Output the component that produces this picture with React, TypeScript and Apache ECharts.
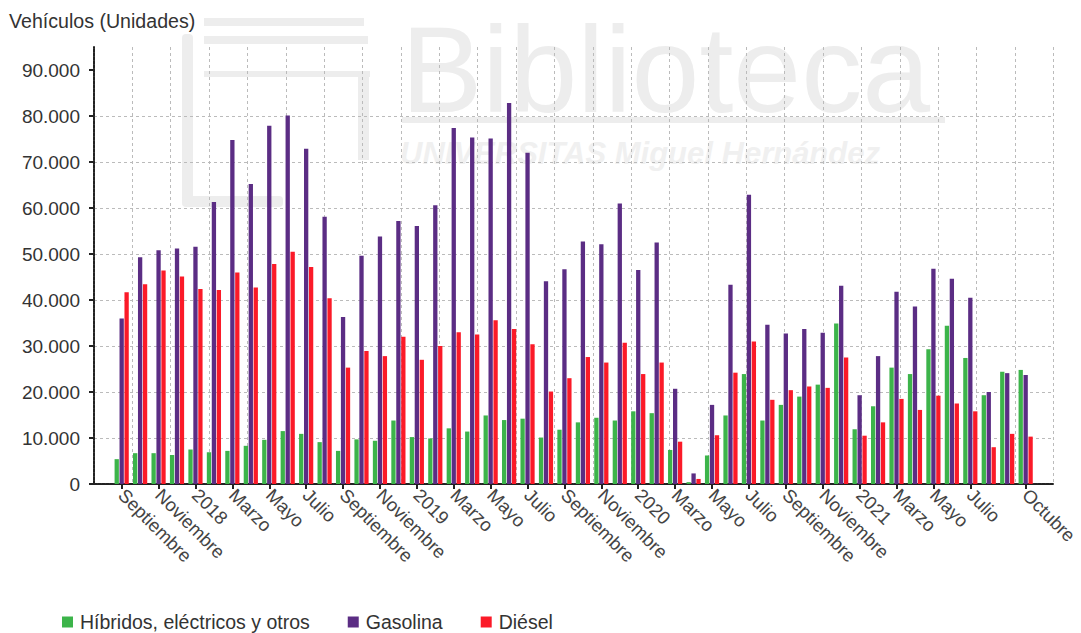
import React, { useEffect, useRef } from "react";
import * as echarts from "echarts";

const months: string[] = [
  "Septiembre", "Octubre", "Noviembre", "Diciembre",
  "2018", "Febrero", "Marzo", "Abril", "Mayo", "Junio", "Julio", "Agosto", "Septiembre", "Octubre", "Noviembre", "Diciembre",
  "2019", "Febrero", "Marzo", "Abril", "Mayo", "Junio", "Julio", "Agosto", "Septiembre", "Octubre", "Noviembre", "Diciembre",
  "2020", "Febrero", "Marzo", "Abril", "Mayo", "Junio", "Julio", "Agosto", "Septiembre", "Octubre", "Noviembre", "Diciembre",
  "2021", "Febrero", "Marzo", "Abril", "Mayo", "Junio", "Julio", "Agosto", "Septiembre", "Octubre",
];

const hibridos: number[] = [
  5400, 6700, 6700, 6300, 7500, 6900, 7200, 8300, 9600, 11500,
  10900, 9100, 7200, 9700, 9400, 13800, 10200, 9900, 12100, 11400,
  14900, 13900, 14200, 10100, 11800, 13400, 14400, 13800, 15800, 15400,
  7400, 400, 6200, 14900, 23900, 13800, 17200, 19000, 21600, 34900,
  11900, 16900, 25300, 23900, 29300, 34400, 27400, 19300, 24400, 24800,
];

const gasolina: number[] = [
  36000, 49300, 50800, 51200, 51600, 61300, 74800, 65200, 77900, 80100,
  72900, 58100, 36300, 49600, 53800, 57200, 56100, 60600, 77400, 75300,
  75100, 82800, 72000, 44100, 46700, 52700, 52100, 61000, 46500, 52500,
  20700, 2300, 17200, 43300, 62900, 34600, 32700, 33700, 32900, 43100,
  19300, 27800, 41800, 38600, 46800, 44600, 40500, 20000, 24100, 23700,
];

const diesel: number[] = [
  41700, 43400, 46400, 45100, 42400, 42200, 46000, 42700, 47800, 50500,
  47200, 40400, 25300, 28900, 27800, 32000, 27000, 30000, 33000, 32500,
  35600, 33700, 30400, 20100, 23000, 27600, 26400, 30700, 23900, 26400,
  9200, 1100, 10600, 24200, 31000, 18300, 20400, 21200, 20900, 27500,
  10500, 13400, 18500, 16100, 19200, 17500, 15800, 8000, 10900, 10300,
];

const yTicks: number[] = [0, 10000, 20000, 30000, 40000, 50000, 60000, 70000, 80000, 90000];

const seriesNames = ["Híbridos, eléctricos y otros", "Gasolina", "Diésel"];
const colors = ["#3cb44a", "#5b2d84", "#fb1a28"];

const FONT = "'Liberation Sans', Arial, sans-serif";

function fmt(v: number): string {
  return String(Math.round(v)).replace(/\B(?=(\d{3})+(?!\d))/g, ".");
}

export default function App() {
  const ref = useRef<HTMLDivElement>(null);

  useEffect(() => {
    if (!ref.current) return;
    const chart = echarts.init(ref.current, undefined, { renderer: "svg" });

    // pad one empty category on each side
    const cats = ["", ...months, ""];
    const pad = (arr: number[]) => [null, ...arr, null];
    const lastIdx = months.length - 1;
    const showIdx = (index: number) => {
      const i = index - 1;
      if (i < 0 || i > lastIdx) return false;
      if (i === lastIdx) return true;
      return i % 2 === 0 && i <= lastIdx - 3;
    };

    const wm = "#ededed";
    const option: any = {
      animation: false,
      backgroundColor: "#ffffff",
      textStyle: { fontFamily: FONT },
      title: {
        text: "Vehículos (Unidades)",
        left: 9,
        top: 11,
        padding: 0,
        textStyle: { fontFamily: FONT, fontSize: 19.6, fontWeight: "normal", color: "#333" },
      },
      graphic: [
        { type: "text", z: -10, x: 401, y: 70, style: { text: "Biblioteca", fill: wm, fontSize: 122, fontFamily: FONT, verticalAlign: "middle" } },
        { type: "rect", z: -10, shape: { x: 402, y: 117, width: 543, height: 6 }, style: { fill: wm } },
        { type: "text", z: -10, x: 400, y: 153, style: { text: "UNIVERSITAS Miguel Hernández", fill: "#f0f0f0", fontSize: 31, fontWeight: "bold", fontStyle: "italic", fontFamily: FONT, verticalAlign: "middle" } },
        { type: "rect", z: -10, shape: { x: 204, y: 18, width: 160, height: 8 }, style: { fill: wm } },
        { type: "rect", z: -10, shape: { x: 204, y: 36, width: 164, height: 8 }, style: { fill: wm } },
        { type: "rect", z: -10, shape: { x: 204, y: 71, width: 166, height: 6 }, style: { fill: wm } },
        { type: "rect", z: -10, shape: { x: 182, y: 34, width: 11, height: 172, r: 4 }, style: { fill: wm } },
        { type: "rect", z: -10, shape: { x: 182, y: 196, width: 101, height: 11, r: 4 }, style: { fill: wm } },
        { type: "rect", z: -10, shape: { x: 358, y: 72, width: 11, height: 88 }, style: { fill: wm } },
      ],
      legend: {
        data: seriesNames,
        left: 62,
        top: 612,
        padding: 0,
        icon: "rect",
        itemWidth: 11,
        itemHeight: 11,
        itemGap: 38,
        textStyle: { fontFamily: FONT, fontSize: 19.5, color: "#333", padding: [0, 0, 0, 2] },
      },
      grid: { left: 94, right: 24, top: 47, bottom: 149, containLabel: false },
      xAxis: [
        {
          type: "category",
          data: cats,
          boundaryGap: true,
          axisLine: { show: true, onZero: false, lineStyle: { color: "#222", width: 2, type: [3, 1] } },
          axisTick: { show: true, alignWithLabel: true, interval: (i: number) => showIdx(i), length: 5, lineStyle: { color: "#222", width: 2 } },
          axisLabel: {
            interval: (i: number) => showIdx(i),
            rotate: -45,
            margin: 8,
            fontFamily: FONT,
            fontSize: 18.5,
            color: "#444",
          },
          splitLine: { show: false },
        },
        {
          type: "value",
          position: "top",
          min: 0,
          max: 25,
          interval: 1,
          axisLine: { show: false },
          axisTick: { show: false },
          axisLabel: { show: false },
          splitLine: { show: true, lineStyle: { color: "#bbb", width: 1, type: [3, 3] } },
        },
      ],
      yAxis: {
        type: "value",
        min: 0,
        max: 95000,
        interval: 10000,
        axisLine: { show: true, lineStyle: { color: "#222", width: 2, type: [3, 1] } },
        axisTick: { show: true, length: 5, customValues: yTicks, lineStyle: { color: "#222", width: 2 } },
        axisLabel: {
          customValues: yTicks,
          formatter: (v: number) => (v > 90000 ? "" : fmt(v)),
          margin: 14,
          fontFamily: FONT,
          fontSize: 19,
          color: "#333",
        },
        splitLine: { show: true, showMaxLine: false, lineStyle: { color: "#bbb", width: 1, type: [3, 3] } },
      },
      series: [
        { name: seriesNames[0], type: "bar", data: pad(hibridos), itemStyle: { color: colors[0] }, barWidth: 4.3, barGap: "15%" },
        { name: seriesNames[1], type: "bar", data: pad(gasolina), itemStyle: { color: colors[1] }, barWidth: 4.3, barGap: "15%" },
        { name: seriesNames[2], type: "bar", data: pad(diesel), itemStyle: { color: colors[2] }, barWidth: 4.3, barGap: "15%" },
      ],
    };

    chart.setOption(option);
    return () => chart.dispose();
  }, []);

  return <div ref={ref} style={{ width: 1081, height: 633, position: "absolute", left: 0, top: 0 }} />;
}
